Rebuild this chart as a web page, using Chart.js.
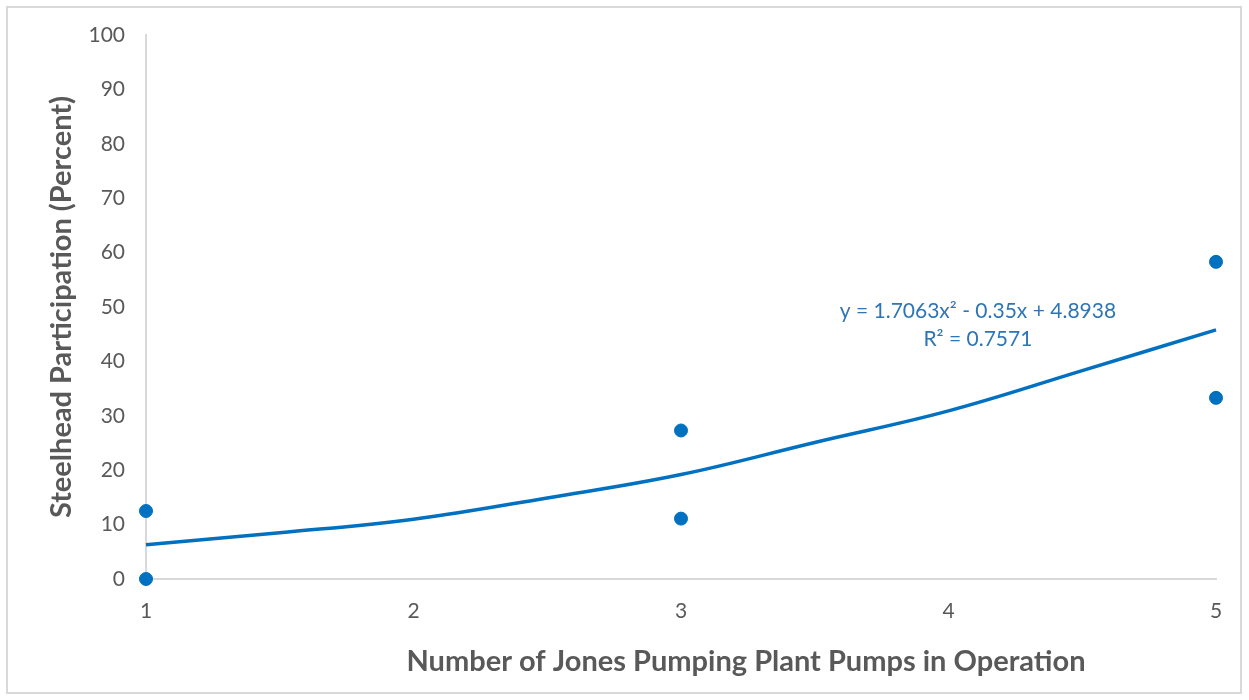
<!DOCTYPE html>
<html>
<head>
<meta charset="utf-8">
<script src="https://cdn.jsdelivr.net/npm/chart.js@4"></script>
<style>
    html, body { margin: 0; padding: 0; background: #fff; }
    #wrap { position: relative; width: 1249px; height: 700px; }
    #frame {
        position: absolute; left: 6px; top: 6px; width: 1232px; height: 684px;
        border: 2px solid #d9d9d9; pointer-events: none;
    }
    canvas { position: absolute; left: 0; top: 0; }
</style>
</head>
<body>
<div id="wrap">
    <canvas id="chart" width="1249" height="700"></canvas>
    <div id="frame"></div>
</div>
<script>
// observed values (pumps in operation vs. percent participation)
const pumpsX = [1, 1, 3, 3, 5, 5];
const participation = [12.5, 0, 27.3, 11.1, 58.3, 33.3];

// polynomial trendline
const trendX = [1, 1.5, 2, 2.5, 3, 3.5, 4, 4.5, 5];
const trendY = [6.3, 8.5, 11.0, 14.9, 19.2, 25.1, 30.9, 38.3, 45.8];

const yTicks = [0, 10, 20, 30, 40, 50, 60, 70, 80, 90, 100];
const xTicks = [1, 2, 3, 4, 5];

const equationText = 'y = 1.7063x\u00B2 - 0.35x + 4.8938';
const rSquaredText = 'R\u00B2 = 0.7571';
const xTitle = 'Number of Jones Pumping Plant Pumps in Operation';
const yTitle = 'Steelhead Participation (Percent)';

const BLUE = '#0070C0';
const GREY = '#595959';
const AXIS = '#d9d9d9';
const FONT = 'Lato, "Open Sans", sans-serif';

const points = pumpsX.map((x, i) => ({ x: x, y: participation[i] }));
const trend = trendX.map((x, i) => ({ x: x, y: trendY[i] }));

// equation label + x axis title (Excel centres it on the whole chart)
const textPlugin = {
    id: 'textPlugin',
    afterDraw(chart) {
        const { ctx, scales } = chart;
        ctx.save();
        ctx.fillStyle = '#2E75B6';
        ctx.font = '21px ' + FONT;
        ctx.textAlign = 'center';
        ctx.textBaseline = 'middle';
        const cx = scales.x.getPixelForValue(4.11);
        ctx.fillText(equationText, cx, scales.y.getPixelForValue(49.3));
        ctx.fillText(rSquaredText, cx, scales.y.getPixelForValue(44.0));

        ctx.fillStyle = GREY;
        ctx.font = 'bold 29px ' + FONT;
        ctx.fillText(xTitle, 746, 662);
        ctx.restore();
    }
};

new Chart(document.getElementById('chart'), {
    type: 'scatter',
    data: {
        datasets: [
            {
                label: 'Participation',
                data: points,
                backgroundColor: BLUE,
                borderColor: BLUE,
                pointRadius: 6.5,
                pointHoverRadius: 6.5,
                clip: false,
                order: 1
            },
            {
                label: 'Trend',
                data: trend,
                showLine: true,
                borderColor: BLUE,
                borderWidth: 3.5,
                pointRadius: 0,
                tension: 0.4,
                clip: false,
                order: 2
            }
        ]
    },
    options: {
        responsive: false,
        animation: false,
        layout: { padding: { left: 0, top: 35, right: 33, bottom: 0 } },
        plugins: {
            legend: { display: false },
            tooltip: { enabled: false }
        },
        scales: {
            x: {
                type: 'linear',
                min: 1,
                max: 5,
                afterBuildTicks: (axis) => { axis.ticks = xTicks.map(v => ({ value: v })); },
                afterFit: (axis) => { axis.height = 121; },
                grid: { display: false, drawTicks: false },
                border: { display: true, color: AXIS, width: 2 },
                ticks: { color: GREY, font: { family: FONT, size: 21 }, padding: 20 }
            },
            y: {
                min: 0,
                max: 100,
                afterBuildTicks: (axis) => { axis.ticks = yTicks.map(v => ({ value: v })); },
                afterFit: (axis) => { axis.width = 146; },
                grid: { display: false, drawTicks: false },
                border: { display: true, color: AXIS, width: 2 },
                ticks: { color: GREY, font: { family: FONT, size: 21 }, padding: 21 },
                title: {
                    display: true,
                    text: yTitle,
                    color: GREY,
                    font: { family: FONT, size: 29, weight: 'bold' },
                    padding: { top: 44, bottom: 0 }
                }
            }
        }
    },
    plugins: [textPlugin]
});
</script>
</body>
</html>
